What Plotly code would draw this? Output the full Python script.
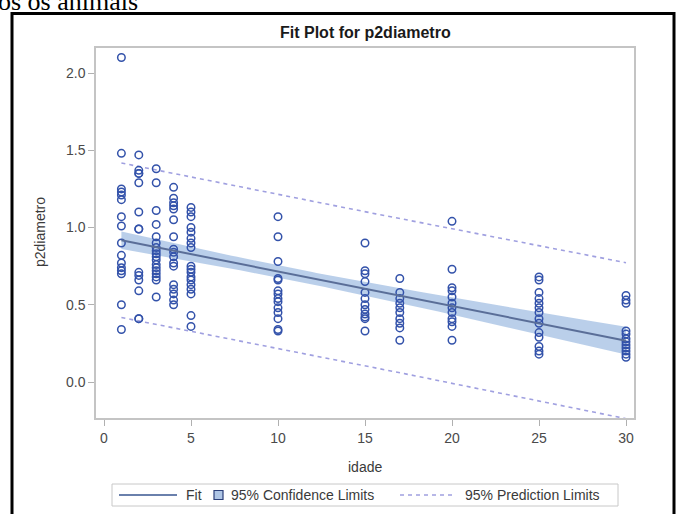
import numpy as np
import plotly.graph_objects as go

W, H = 677, 514
# plot area (pixels)
L, R, T, B = 96, 634, 48, 418

ages = [1, 2, 3, 4, 5, 10, 15, 17, 20, 25, 30]
d1 = [2.10, 1.48, 1.25, 1.23, 1.21, 1.18, 1.07, 1.01, 0.90, 0.82, 0.77, 0.74, 0.72, 0.70, 0.50, 0.34]
d2 = [1.47, 1.37, 1.35, 1.35, 1.29, 1.10, 0.99, 0.99, 0.71, 0.69, 0.66, 0.59, 0.41, 0.41]
d3 = [1.38, 1.29, 1.11, 1.02, 0.94, 0.90, 0.87, 0.85, 0.83, 0.81, 0.79, 0.76, 0.74, 0.72, 0.70, 0.68, 0.66, 0.55]
d4 = [1.26, 1.19, 1.16, 1.14, 1.12, 1.05, 0.94, 0.86, 0.84, 0.81, 0.77, 0.75, 0.63, 0.60, 0.57, 0.53, 0.50]
d5 = [1.13, 1.10, 1.07, 1.00, 0.97, 0.93, 0.90, 0.87, 0.75, 0.73, 0.71, 0.68, 0.66, 0.63, 0.60, 0.57, 0.43, 0.36]
d10 = [1.07, 0.94, 0.78, 0.67, 0.66, 0.59, 0.57, 0.54, 0.52, 0.48, 0.45, 0.41, 0.34, 0.33]
d15 = [0.90, 0.72, 0.70, 0.65, 0.58, 0.54, 0.50, 0.47, 0.44, 0.42, 0.41, 0.33]
d17 = [0.67, 0.58, 0.54, 0.51, 0.48, 0.45, 0.41, 0.38, 0.35, 0.27]
d20 = [1.04, 0.73, 0.61, 0.59, 0.55, 0.51, 0.48, 0.45, 0.41, 0.39, 0.36, 0.27]
d25 = [0.68, 0.66, 0.58, 0.54, 0.51, 0.48, 0.45, 0.41, 0.38, 0.32, 0.29, 0.23, 0.20, 0.18]
d30 = [0.56, 0.53, 0.51, 0.33, 0.31, 0.28, 0.26, 0.24, 0.22, 0.20, 0.18, 0.16]
groups = [d1, d2, d3, d4, d5, d10, d15, d17, d20, d25, d30]

x_ticks = [0, 5, 10, 15, 20, 25, 30]
y_ticks = [0.0, 0.5, 1.0, 1.5, 2.0]
t_crit = 1.976

idade = np.array([a for a, g in zip(ages, groups) for _ in g], dtype=float)
diam = np.array([v for g in groups for v in g], dtype=float)

# regression, confidence and prediction limits
n = len(idade)
slope, intercept = np.polyfit(idade, diam, 1)
resid = diam - (intercept + slope * idade)
s = np.sqrt(np.sum(resid ** 2) / (n - 2))
xbar = idade.mean()
sxx = np.sum((idade - xbar) ** 2)
xg = np.linspace(1, 30, 120)
fit = intercept + slope * xg
se_m = s * np.sqrt(1 / n + (xg - xbar) ** 2 / sxx)
se_p = s * np.sqrt(1 + 1 / n + (xg - xbar) ** 2 / sxx)

# colours
MARK = "#3352AA"
FIT = "#5A6E98"
BAND = "rgba(140,175,220,0.6)"
PRED = "#A0A0E0"

def px(xp):
    return (xp - L) / (R - L)

def py(yp):
    return (B - yp) / (B - T)

fig = go.Figure()
fig.add_trace(go.Scatter(x=np.concatenate([xg, xg[::-1]]),
                         y=np.concatenate([fit + t_crit * se_m, (fit - t_crit * se_m)[::-1]]),
                         fill="toself", fillcolor=BAND, line=dict(width=0),
                         hoverinfo="skip", showlegend=False))
fig.add_trace(go.Scatter(x=xg, y=fit + t_crit * se_p, mode="lines",
                         line=dict(color=PRED, width=1.6, dash="4px,4px"), showlegend=False))
fig.add_trace(go.Scatter(x=xg, y=fit - t_crit * se_p, mode="lines",
                         line=dict(color=PRED, width=1.6, dash="4px,4px"), showlegend=False))
fig.add_trace(go.Scatter(x=idade, y=diam, mode="markers",
                         marker=dict(symbol="circle-open", size=7.5, color=MARK,
                                     line=dict(width=1.5, color=MARK)),
                         showlegend=False))
fig.add_trace(go.Scatter(x=xg, y=fit, mode="lines",
                         line=dict(color=FIT, width=2), showlegend=False))

x_per_px = 30 / (626 - 104)
xr = [-(104 - L) * x_per_px, 30 + (R - 626) * x_per_px]
y_per_px = 2.0 / (382 - 73)
yr = [-(B - 382) * y_per_px, 2.0 + (73 - T) * y_per_px]

axis_common = dict(showgrid=False, zeroline=False, showline=True, mirror=True,
                   linecolor="#C4C4C4", linewidth=1.5, ticks="outside",
                   tickcolor="#B0B0B0", ticklen=6, tickwidth=1.2,
                   tickfont=dict(family="Arial, Liberation Sans", size=14, color="#4A4A4A"))
fig.update_xaxes(range=xr, tickvals=x_ticks, **axis_common)
fig.update_yaxes(range=yr, tickvals=y_ticks, tickformat=".1f", **axis_common)

FONT = "Arial, Liberation Sans"
ann = []
ann.append(dict(text="os os animais", x=px(-4), y=py(2), xanchor="left", yanchor="middle",
                font=dict(family="Liberation Serif, Times New Roman", size=26, color="#000")))
ann.append(dict(text="<b>Fit Plot for p2diametro</b>", x=px(365), y=py(33),
                xanchor="center", yanchor="middle",
                font=dict(family=FONT, size=16, color="#1A1A1A")))
ann.append(dict(text="p2diametro", x=px(40), y=py(232), textangle=-90,
                xanchor="center", yanchor="middle",
                font=dict(family=FONT, size=14, color="#3A3A3A")))
ann.append(dict(text="idade", x=px(365), y=py(467), xanchor="center", yanchor="middle",
                font=dict(family=FONT, size=14, color="#3A3A3A")))
# legend texts
LY = 495
ann.append(dict(text="Fit", x=px(184), y=py(LY), xanchor="left", yanchor="middle",
                font=dict(family=FONT, size=14, color="#3A3A3A")))
ann.append(dict(text="95% Confidence Limits", x=px(229), y=py(LY), xanchor="left", yanchor="middle",
                font=dict(family=FONT, size=14, color="#3A3A3A")))
ann.append(dict(text="95% Prediction Limits", x=px(463), y=py(LY), xanchor="left", yanchor="middle",
                font=dict(family=FONT, size=14, color="#3A3A3A")))
for a in ann:
    a.update(xref="paper", yref="paper", showarrow=False)

shapes = [
    # outer black frame
    dict(type="rect", x0=px(12), x1=px(674), y0=py(13.5), y1=py(560),
         line=dict(color="#000", width=3)),
    # legend box
    dict(type="rect", x0=px(112), x1=px(618), y0=py(484), y1=py(506),
         line=dict(color="#C8C8C8", width=1), fillcolor="rgba(0,0,0,0)"),
    dict(type="line", x0=px(119), x1=px(177), y0=py(LY), y1=py(LY),
         line=dict(color="#6A80AC", width=2)),
    dict(type="rect", x0=px(214), x1=px(223), y0=py(490.5), y1=py(499.5),
         line=dict(color="#2B3F7A", width=1.2), fillcolor="#AFC6E6"),
    dict(type="line", x0=px(400), x1=px(455), y0=py(LY), y1=py(LY),
         line=dict(color=PRED, width=1.6, dash="4px,4px")),
]
for sh in shapes:
    sh.update(xref="paper", yref="paper")

fig.update_layout(width=W, height=H, margin=dict(l=L, r=W - R, t=T, b=H - B),
                  paper_bgcolor="white", plot_bgcolor="white",
                  annotations=ann, shapes=shapes, showlegend=False)
fig.write_html("out.html", config={"displayModeBar": False},
               post_script="document.body.style.margin='0';document.body.style.overflow='hidden';")
